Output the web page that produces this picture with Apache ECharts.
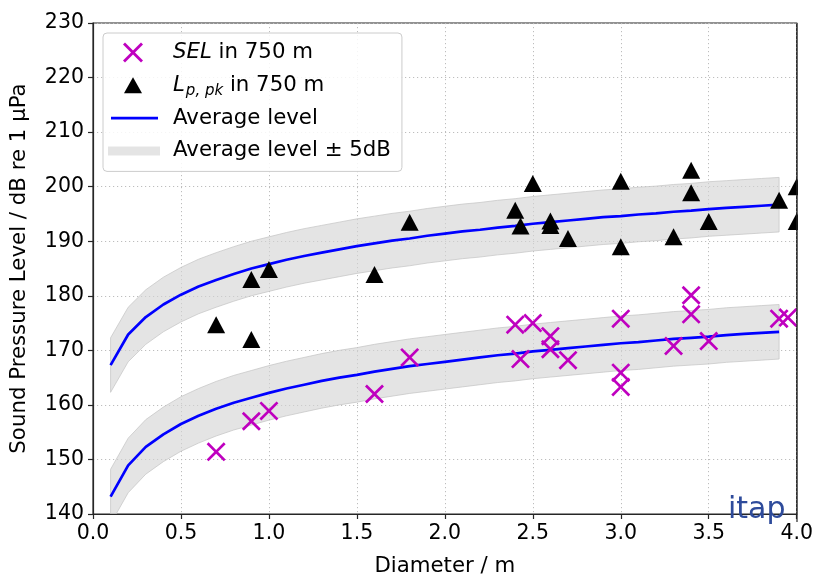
<!DOCTYPE html>
<html>
<head>
<meta charset="utf-8">
<script src="https://cdn.jsdelivr.net/npm/echarts@6/dist/echarts.min.js"></script>
<style>
  html, body { margin: 0; padding: 0; background: #ffffff; }
  #chart { width: 816px; height: 582px; }
</style>
</head>
<body>
<div id="chart"></div>
<script>
// Diameter grid for the fitted average curves (m)
const avgDiameter = [0.1, 0.2, 0.3, 0.4, 0.5, 0.6, 0.7, 0.8, 0.9, 1.0,
  1.1, 1.2, 1.3, 1.4, 1.5, 1.6, 1.7, 1.8, 1.9, 2.0,
  2.1, 2.2, 2.3, 2.4, 2.5, 2.6, 2.7, 2.8, 2.9, 3.0,
  3.1, 3.2, 3.3, 3.4, 3.5, 3.6, 3.7, 3.8, 3.9];

// Average peak level Lp,pk (dB re 1 µPa)
const avgPeak = [167.3, 172.9, 176.1, 178.4, 180.2, 181.7, 182.9, 184.0, 185.0, 185.8,
  186.6, 187.3, 187.9, 188.5, 189.1, 189.6, 190.1, 190.5, 191.0, 191.4,
  191.8, 192.1, 192.5, 192.8, 193.2, 193.5, 193.8, 194.1, 194.4, 194.6,
  194.9, 195.1, 195.4, 195.6, 195.9, 196.1, 196.3, 196.5, 196.7];

// Average sound exposure level SEL (dB re 1 µPa²s)
const avgSel = [143.2, 148.9, 152.3, 154.6, 156.5, 158.0, 159.3, 160.4, 161.3, 162.2,
  163.0, 163.7, 164.4, 165.0, 165.5, 166.1, 166.6, 167.1, 167.5, 167.9,
  168.3, 168.7, 169.1, 169.4, 169.8, 170.1, 170.4, 170.7, 171.0, 171.3,
  171.5, 171.8, 172.1, 172.3, 172.5, 172.8, 173.0, 173.2, 173.4];

// Half-width of the shaded band (dB)
const bandHalfWidth = 5;

// Measured peak levels in 750 m: [diameter, level]
const peakPoints = [
  [0.7, 174.7], [0.9, 172.0], [0.9, 183.0], [1.0, 184.8], [1.6, 183.9], [1.8, 193.5],
  [2.4, 195.7], [2.43, 192.8], [2.5, 200.6], [2.6, 193.7], [2.6, 192.9], [2.7, 190.5],
  [3.0, 201.0], [3.0, 189.0], [3.3, 190.8], [3.4, 203.0], [3.4, 198.9], [3.5, 193.6],
  [3.9, 197.5], [4.0, 200.0], [4.0, 193.6]
];

// Measured SEL in 750 m: [diameter, level]
const selPoints = [
  [0.7, 151.4], [0.9, 157.0], [1.0, 158.9], [1.6, 162.0], [1.8, 168.7],
  [2.4, 174.7], [2.43, 168.4], [2.5, 175.0], [2.6, 172.6], [2.6, 170.2], [2.7, 168.2],
  [3.0, 175.8], [3.0, 165.9], [3.0, 163.3], [3.3, 170.8], [3.4, 180.1], [3.4, 176.6],
  [3.5, 171.7], [3.9, 175.8], [3.95, 176.0]
];

// Axis ranges and ticks
const xTicks = { min: 0, max: 4, step: 0.5 };
const yTicks = { min: 140, max: 230, step: 10 };

const FONT = "'DejaVu Sans', sans-serif";
const FS = 20.5;      // tick labels
const FS_TITLE = 21.3; // axis titles and legend

// Series names (legend labels)
const NAME_SEL = 'SEL in 750 m';
const NAME_PEAK = 'Lp,pk in 750 m';
const NAME_AVG = 'Average level';
const NAME_BAND = 'Average level \u00b1 5dB';

// Glyph paths
const crossPath = 'path://M2,0L10,8L18,0L20,2L12,10L20,18L18,20L10,12L2,20L0,18L8,10L0,2Z';
// Legend icons in a 60x20 frame; the two leading moves pin the frame size
const legendCross = 'path://M0,0M60,20M15,2L17,0L25,8L33,0L35,2L27,10L35,18L33,20L25,12L17,20L15,18L23,10Z';
const legendTri = 'path://M0,0M60,20M25,2L34,18L16,18Z';
const legendLine = 'path://M0,0M60,20M3,8.7L50,8.7L50,11.3L3,11.3Z';
const legendBand = 'path://M0,0M60,20M0,5.5L52,5.5L52,14.5L0,14.5Z';

const BAND_FILL = 'rgba(211,211,211,0.62)';
const BAND_EDGE = 'rgba(195,195,195,0.7)';
const SPINE = '#262626';

function bandRenderer(avg) {
  return function (params, api) {
    if (params.dataIndex !== 0) return null;
    const upper = avgDiameter.map((x, i) => api.coord([x, avg[i] + bandHalfWidth]));
    const lower = avgDiameter.map((x, i) => api.coord([x, avg[i] - bandHalfWidth])).reverse();
    return {
      type: 'polygon',
      shape: { points: upper.concat(lower) },
      style: { fill: BAND_FILL, stroke: BAND_EDGE, lineWidth: 1 }
    };
  };
}

function pairs(xs, ys) {
  return xs.map((x, i) => [x, ys[i]]);
}

const chart = echarts.init(document.getElementById('chart'), null, { renderer: 'canvas' });

const option = {
  animation: false,
  backgroundColor: '#ffffff',
  textStyle: { fontFamily: FONT },
  grid: {
    left: 93, right: 19, top: 23, bottom: 60,
    show: true, borderColor: SPINE, borderWidth: 1.2, backgroundColor: 'transparent'
  },
  xAxis: {
    type: 'value',
    min: xTicks.min, max: xTicks.max, interval: xTicks.step,
    name: 'Diameter / m',
    nameLocation: 'middle',
    nameGap: 42,
    nameTextStyle: { fontFamily: FONT, fontSize: FS_TITLE, color: '#000' },
    axisLine: { show: true, onZero: false, lineStyle: { color: SPINE, width: 1.2 } },
    axisTick: { show: true, inside: false, length: 5, lineStyle: { color: SPINE, width: 1.2 } },
    axisLabel: { margin: 9, fontFamily: FONT, fontSize: FS, color: '#000', formatter: v => v.toFixed(1) },
    splitLine: { show: true, lineStyle: { color: '#bdbdbd', width: 1, type: [1.2, 2.8] } }
  },
  yAxis: {
    type: 'value',
    min: yTicks.min, max: yTicks.max, interval: yTicks.step,
    name: 'Sound Pressure Level / dB re 1 \u00b5Pa',
    nameLocation: 'middle',
    nameGap: 63,
    nameTextStyle: { fontFamily: FONT, fontSize: FS_TITLE, color: '#000' },
    axisLine: { show: true, onZero: false, lineStyle: { color: SPINE, width: 1.2 } },
    axisTick: { show: true, inside: false, length: 5, lineStyle: { color: SPINE, width: 1.2 } },
    axisLabel: { margin: 9, fontFamily: FONT, fontSize: FS, color: '#000' },
    splitLine: { show: true, lineStyle: { color: '#bdbdbd', width: 1, type: [1.2, 2.8] } }
  },
  legend: {
    orient: 'vertical',
    left: 103, top: 33,
    padding: [6, 11, 7, 5],
    itemGap: 5.8,
    itemWidth: 60, itemHeight: 20,
    selectedMode: false,
    backgroundColor: 'rgba(255,255,255,0.85)',
    borderColor: '#cccccc', borderWidth: 1, borderRadius: 4,
    itemStyle: { borderWidth: 0 },
    data: [
      { name: NAME_SEL, icon: legendCross },
      { name: NAME_PEAK, icon: legendTri },
      { name: NAME_AVG, icon: legendLine },
      { name: NAME_BAND, icon: legendBand }
    ],
    formatter: function (name) {
      if (name === NAME_SEL) return '{i|SEL} in 750 m';
      if (name === NAME_PEAK) return '{i|L}{s|p, pk} in 750 m';
      return name;
    },
    textStyle: {
      fontFamily: FONT, fontSize: FS_TITLE, color: '#000', lineHeight: 27,
      rich: {
        i: { fontFamily: FONT, fontSize: FS_TITLE, fontStyle: 'italic', color: '#000', lineHeight: 27 },
        s: { fontFamily: FONT, fontSize: 15, fontStyle: 'italic', color: '#000', lineHeight: 15, padding: [12, 0, 0, 1] }
      }
    }
  },
  graphic: [
    {
      // masks marker overflow past the right spine
      type: 'rect', z: 100, silent: true,
      shape: { x: 798, y: 0, width: 18, height: 521 },
      style: { fill: '#ffffff' }
    },
    {
      type: 'line', z: 101, silent: true,
      shape: { x1: 797, y1: 23, x2: 797, y2: 522 },
      style: { stroke: SPINE, lineWidth: 1.2 }
    },
    {
      type: 'text', z: 101, silent: true,
      x: 728, y: 525,
      style: { text: 'itap', font: "30px 'DejaVu Sans', sans-serif", fill: '#2e4b9b', align: 'left', verticalAlign: 'bottom' }
    }
  ],
  series: [
    {
      name: NAME_BAND, type: 'custom', clip: true, z: 1,
      itemStyle: { color: BAND_FILL },
      data: pairs(avgDiameter, avgSel),
      encode: { x: 0, y: 1 },
      renderItem: bandRenderer(avgSel)
    },
    {
      name: NAME_BAND, type: 'custom', clip: true, z: 1,
      itemStyle: { color: BAND_FILL },
      data: pairs(avgDiameter, avgPeak),
      encode: { x: 0, y: 1 },
      renderItem: bandRenderer(avgPeak)
    },
    {
      name: NAME_AVG, type: 'line', z: 3,
      color: '#0000ff',
      showSymbol: false, symbol: 'none',
      itemStyle: { color: '#0000ff', borderWidth: 0 },
      lineStyle: { color: '#0000ff', width: 2.7 },
      data: pairs(avgDiameter, avgSel)
    },
    {
      name: NAME_AVG, type: 'line', z: 3,
      color: '#0000ff',
      showSymbol: false, symbol: 'none',
      itemStyle: { color: '#0000ff', borderWidth: 0 },
      lineStyle: { color: '#0000ff', width: 2.7 },
      data: pairs(avgDiameter, avgPeak)
    },
    {
      name: NAME_SEL, type: 'scatter', z: 4,
      symbol: crossPath, symbolSize: 19,
      itemStyle: { color: '#bf00bf', opacity: 1 },
      data: selPoints
    },
    {
      name: NAME_PEAK, type: 'scatter', z: 4,
      symbol: 'triangle', symbolSize: [18, 17],
      itemStyle: { color: '#000000', opacity: 1 },
      data: peakPoints
    }
  ]
};

chart.setOption(option);
</script>
</body>
</html>
